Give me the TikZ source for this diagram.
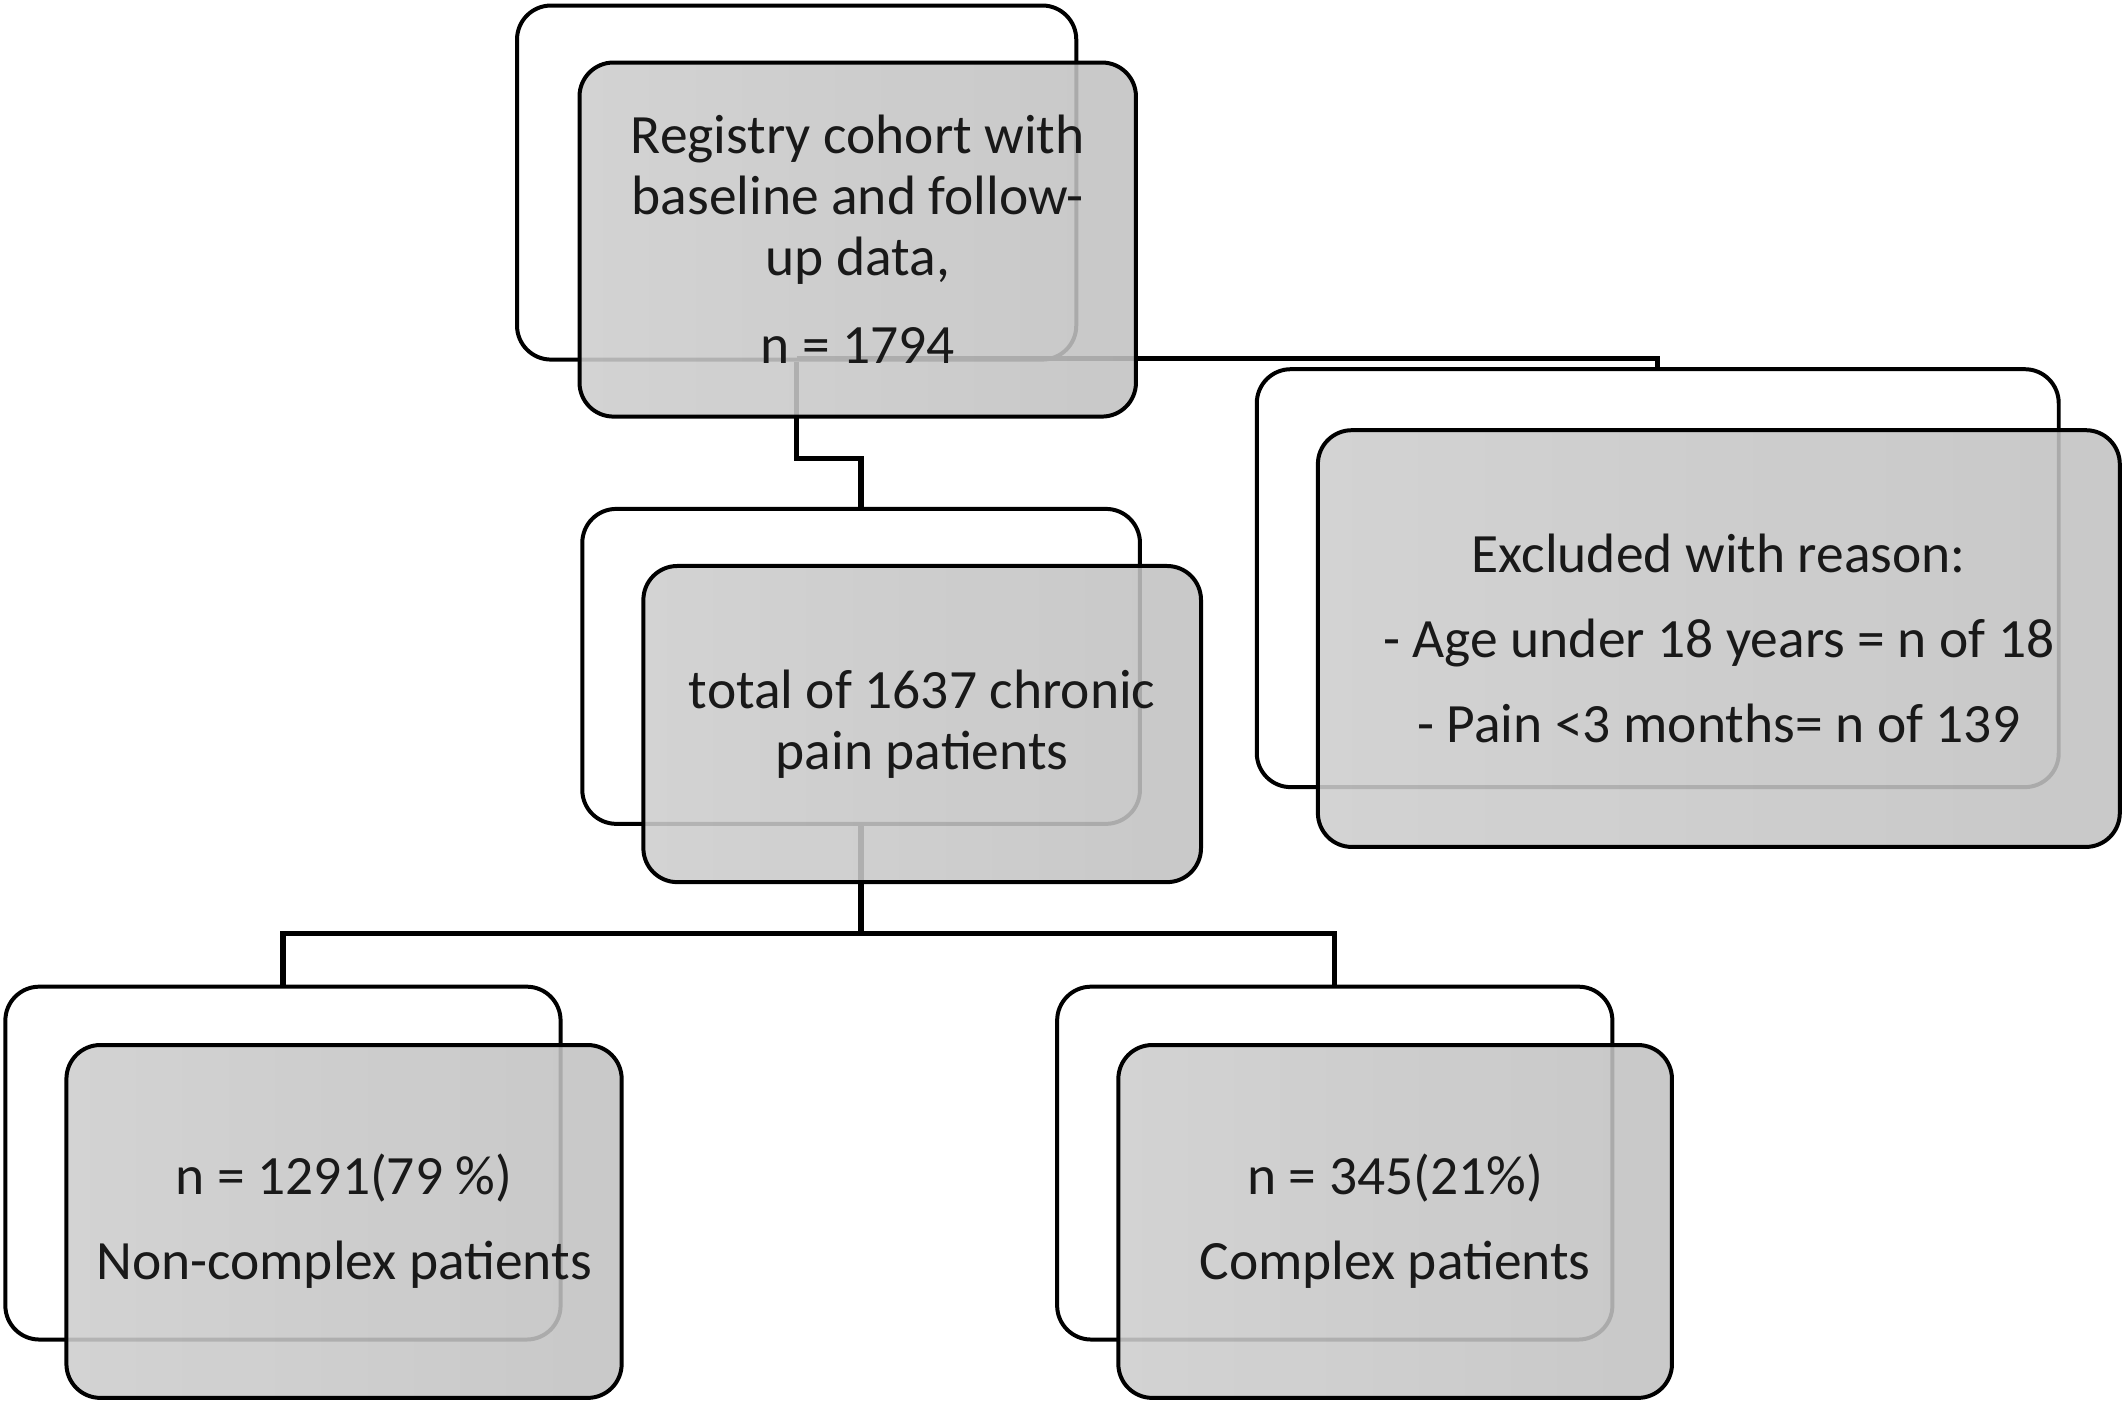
\documentclass[tikz,border=0pt]{standalone}
\usepackage{fontspec}
\setmainfont{Carlito}
\begin{document}
\begin{tikzpicture}[x=0.34pt,y=-0.34pt,
  backbox/.style={draw=black,line width=1pt,rounded corners=8.5pt,fill=white,inner sep=0pt},
  frontbox/.style={draw=black,line width=1pt,rounded corners=8.5pt,inner sep=0pt,
    left color={rgb,255:red,205;green,205;blue,205},right color={rgb,255:red,193;green,193;blue,193},
    fill opacity=0.88,text opacity=1,align=center,text={rgb,255:red,25;green,25;blue,25},
    font=\fontsize{13.9}{15.3}\selectfont},
  conn/.style={draw=black,line width=1.35pt}]
\useasboundingbox (0,0) rectangle (1568,1039);
% back boxes
\node[backbox,minimum width=140.1pt,minimum height=88.7pt] (tb) at (587,134.5) {};
\node[backbox,minimum width=200.9pt,minimum height=104.7pt] (eb) at (1221.5,426) {};
\node[backbox,minimum width=139.7pt,minimum height=78.9pt] (mb) at (634.5,491) {};
\node[backbox,minimum width=139.1pt,minimum height=88.4pt] (lb) at (208.5,857) {};
\node[backbox,minimum width=139.1pt,minimum height=88.4pt] (rb) at (983.5,857) {};
% connectors
\coordinate (j1) at (0,338);
\coordinate (j2) at (0,688);
\draw[conn] (tb.south) -- (tb.south |- j1) -| (mb.north);
\draw[conn] ([yshift=0.7pt]tb.south) -| (eb.north);
\draw[conn] (mb.south) -- (mb.south |- j2) -| (lb.north);
\draw[conn] (mb.south |- j2) -| (rb.north);
% front boxes
\node[frontbox,minimum width=139.4pt,minimum height=88.7pt] (tf) at (632,176.5)
  {Registry cohort with\\baseline and follow-\\up data,\\[6.8pt]n = 1794};
\node[frontbox,minimum width=200.9pt,minimum height=104.4pt] (ef) at (1266.5,470.5)
  {Excluded with reason:\\[6pt]- Age under 18 years = n of 18\\[6pt]- Pain <3 months= n of 139};
\node[frontbox,minimum width=139.7pt,minimum height=79.2pt] (mf) at (679.5,533.5)
  {total of 1637 chronic\\pain patients};
\node[frontbox,minimum width=139.1pt,minimum height=88.4pt] (lf) at (253.5,900)
  {n = 1291(79 \%)\\[6pt]Non-complex patients};
\node[frontbox,minimum width=138.7pt,minimum height=88.4pt] (rf) at (1028,900)
  {n = 345(21\%)\\[6pt]Complex patients};
\end{tikzpicture}
\end{document}
